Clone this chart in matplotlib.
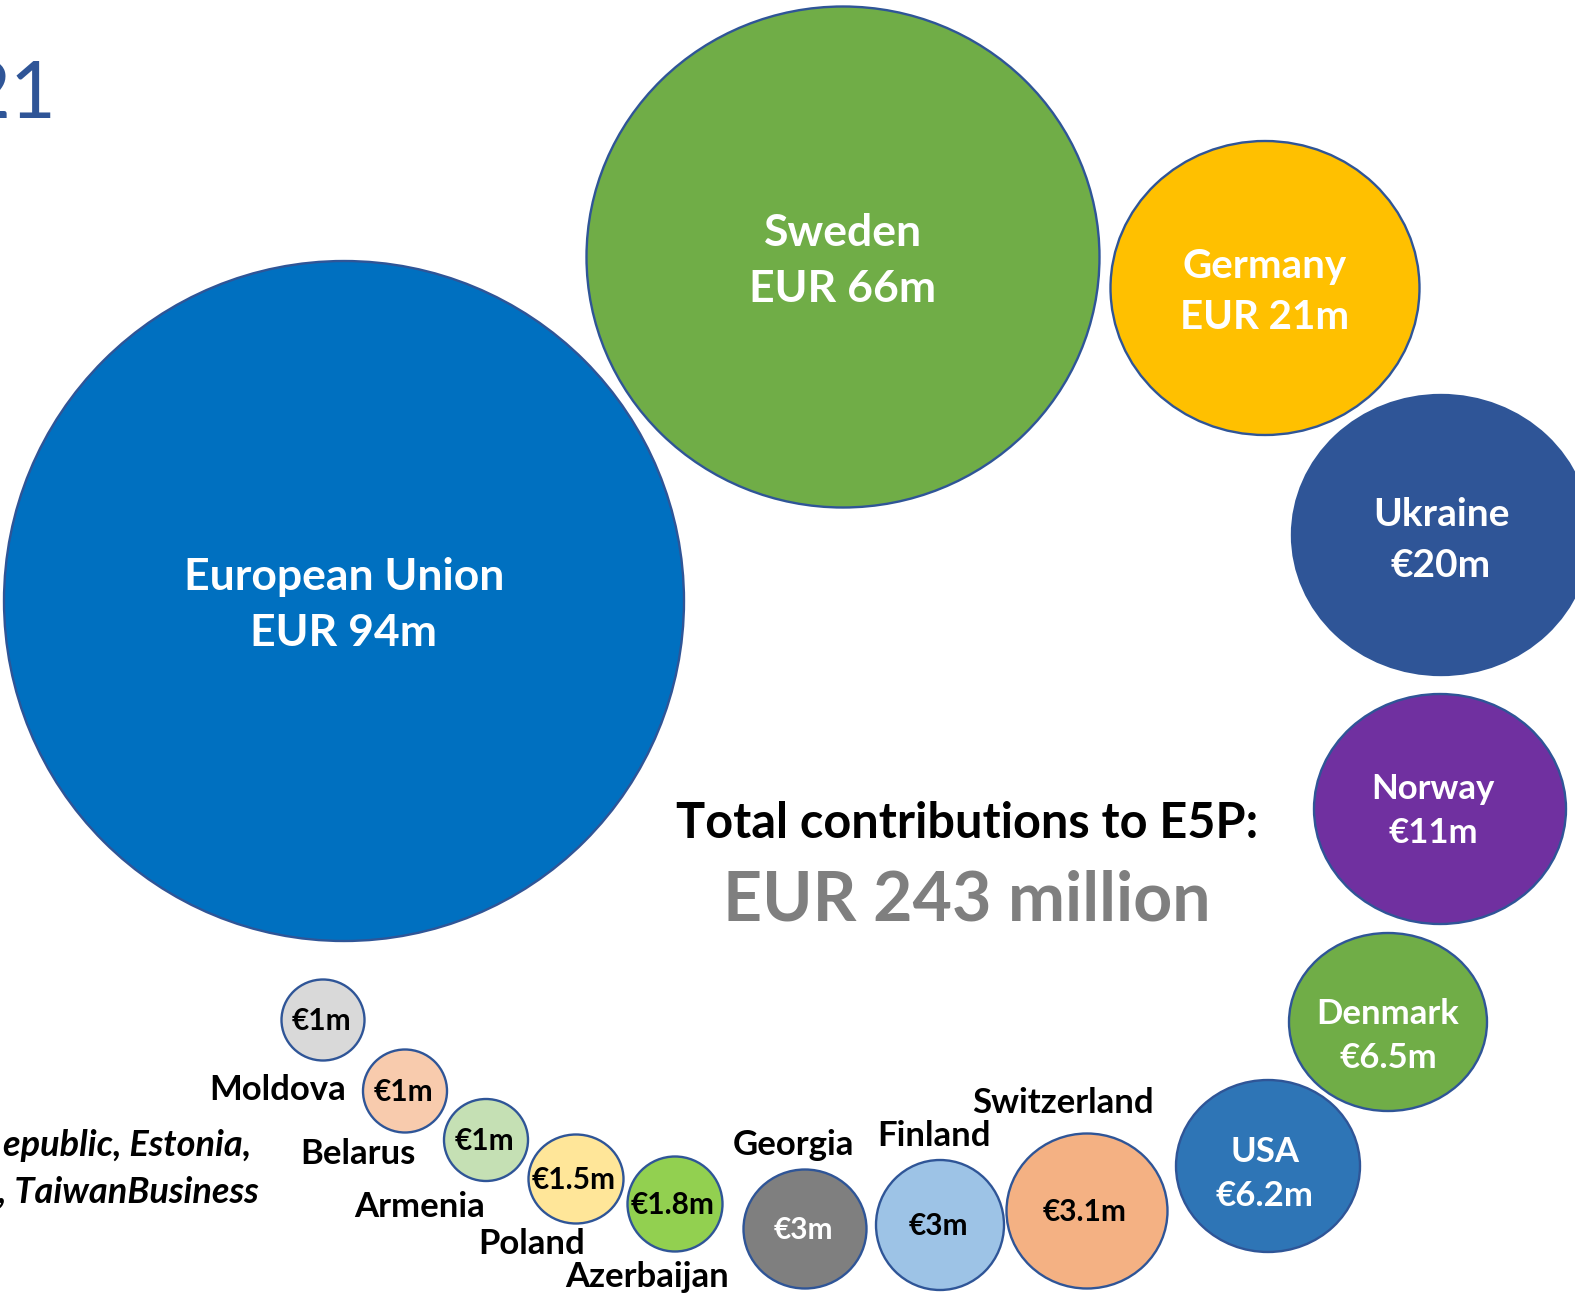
import matplotlib.pyplot as plt
from matplotlib.patches import Ellipse

# Contributions, EUR million (as labelled on the slide)
countries = ["European Union", "Sweden", "Germany", "Ukraine", "Norway", "Denmark", "USA",
             "Switzerland", "Finland", "Georgia", "Azerbaijan", "Poland", "Armenia", "Belarus", "Moldova"]
amounts = [94, 66, 21, 20, 11, 6.5, 6.2, 3.1, 3, 3, 1.8, 1.5, 1, 1, 1]
amount_labels = ["EUR 94m", "EUR 66m", "EUR 21m", "€20m", "€11m", "€6.5m", "€6.2m",
                 "€3.1m", "€3m", "€3m", "€1.8m", "€1.5m", "€1m", "€1m", "€1m"]
total_label = "EUR 243 million"

colors = ["#0070C0", "#70AD47", "#FFC000", "#2F5597", "#7030A0", "#70AD47", "#2E75B6",
          "#F4B183", "#9DC3E6", "#7F7F7F", "#92D050", "#FFE699", "#C5E0B4", "#F8CBAD", "#D9D9D9"]

# layout of the bubbles (pixels, as on the slide)
cx = [344, 843, 1265, 1441, 1440, 1388, 1268, 1087, 940, 805, 675, 576, 486, 405, 323]
cy = [601, 257, 288, 535, 809, 1022, 1166, 1211, 1225, 1229, 1204, 1179, 1140, 1091, 1020]
bw = [680, 513, 309, 298, 252, 198, 184, 161, 128, 123, 95, 95, 84, 84, 83]
bh = [680, 501, 294, 280, 230, 178, 172, 155, 130, 119, 95, 89, 82, 83, 81]

# names written inside for the big ones, outside for the small ones
inside_size = [32, 32, 29, 28, 25, 25, 25]
line_gap = [28, 28.5, 25.5, 25.5, 22, 22.5, 22.5]
text_dx = [0, 0, 0, 0, -7, 0, -3]
text_dy = [4, 4, 4, 5, 2, 14, 8]
outside_x = [1063, 934, 793, 647, 532, 420, 358, 278]
outside_y = [1103, 1136, 1145, 1277, 1244, 1207, 1154, 1090]

plt.rcParams['font.family'] = ['Lato', 'DejaVu Sans']

fig = plt.figure(figsize=(15.75, 12.96), dpi=100)
ax = fig.add_axes([0, 0, 1, 1])
ax.set_xlim(0, 1575)
ax.set_ylim(1296, 0)
ax.axis('off')

for i in range(len(countries)):
    ax.add_patch(Ellipse((cx[i], cy[i]), bw[i], bh[i], facecolor=colors[i],
                         edgecolor="#2F5597", linewidth=1.7))
    if i < len(inside_size):
        fs = inside_size[i]
        tx = cx[i] + text_dx[i]
        ty = cy[i] + text_dy[i]
        ax.text(tx, ty - line_gap[i], countries[i], ha='center', va='center',
                color='white', fontsize=fs, fontweight='bold')
        ax.text(tx, ty + line_gap[i], amount_labels[i], ha='center', va='center',
                color='white', fontsize=fs, fontweight='bold')
    else:
        j = i - len(inside_size)
        txt_col = 'white' if countries[i] == "Georgia" else 'black'
        ax.text(cx[i] - 2, cy[i] + 1, amount_labels[i], ha='center', va='center',
                color=txt_col, fontsize=21.5, fontweight='bold')
        ax.text(outside_x[j], outside_y[j], countries[i], ha='center', va='center',
                color='black', fontsize=25, fontweight='bold')

ax.text(967, 823, "Total contributions to E5P:", ha='center', va='center',
        fontsize=35, fontweight='bold', color='black')
ax.text(967, 901, total_label, ha='center', va='center',
        fontsize=49, fontweight='bold', color='#7F7F7F')

# clipped pieces of the slide at the left edge
ax.text(56, 96, "21", ha='right', va='center', fontsize=57, color='#2F5597')
ax.text(251, 1146, "epublic, Estonia,", ha='right', va='center', fontsize=26,
        fontweight='bold', fontstyle='italic', color='black')
ax.text(259, 1192, ", TaiwanBusiness", ha='right', va='center', fontsize=26,
        fontweight='bold', fontstyle='italic', color='black')

fig.savefig("out.png", dpi=100)
